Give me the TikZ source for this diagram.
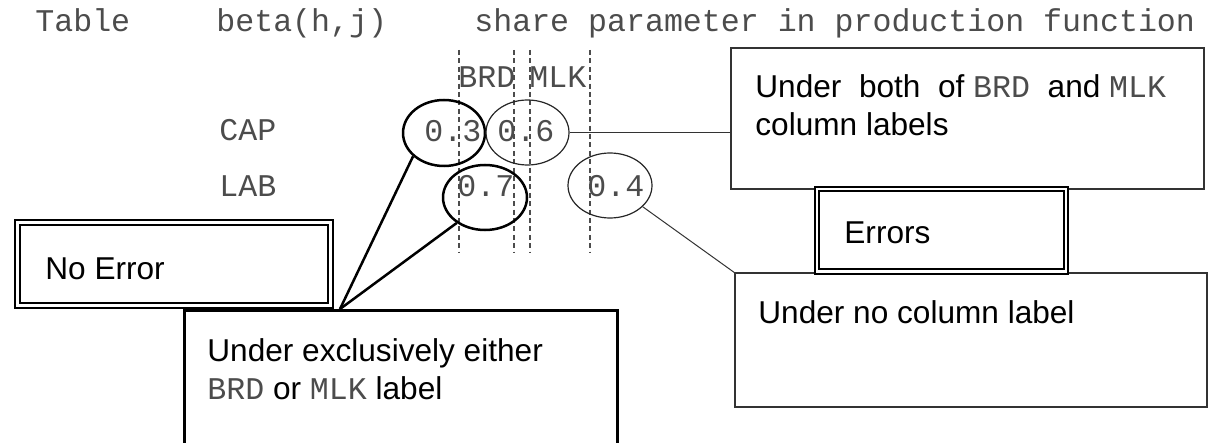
\documentclass[tikz,border=0pt]{standalone}
\usepackage{fontspec}
\setmainfont{Liberation Sans}
\setmonofont{Liberation Mono}
\usetikzlibrary{shapes.geometric,positioning,calc}

\newcommand{\cd}[1]{{\ttfamily\color{black!70}#1}}

\tikzset{
  txt/.style={inner sep=0pt, anchor=base west, font=\fontsize{15.8}{19}\selectfont, align=left},
  box/.style={draw=black!80, line width=0.6pt, fill=white, anchor=north west, inner sep=0pt, outer sep=0pt},
  boldbox/.style={box, draw=black, line width=1.5pt},
  dblbox/.style={box, draw=black, line width=1pt, double, double distance=1.25pt},
  ring/.style={draw=black!85, ellipse, line width=0.6pt, inner sep=0pt},
  boldring/.style={ring, draw=black, line width=1.25pt},
  guide/.style={draw=black!70, dash pattern=on 2.5pt off 1.7pt, line width=0.65pt},
  link/.style={draw=black!80, line width=0.5pt},
  boldlink/.style={draw=black, line width=1.25pt}
}

\begin{document}
\begin{tikzpicture}[x=0.5pt, y=-0.5pt]
\useasboundingbox (0,0) rectangle (1208,443);
\clip (0,0) rectangle (1208,443);

% heading of the table
\node[txt] (ttable) at (35,32) {\cd{Table}};
\node[txt] (tbeta) at (216,32) {\cd{beta(h,j)}};
\node[txt] (tshare) at (474,32) {\cd{share parameter in production function}};

% column and row labels
\node[txt] (cbrd) at (458,87.7) {\cd{BRD}};
\node[txt] (cmlk) at (529,87.7) {\cd{MLK}};
\node[txt] (rcap) at (219,141) {\cd{CAP}};
\node[txt] (rlab) at (219,197) {\cd{LAB}};

% column guides
\foreach \x in {459,514,530,590}
  \draw[guide] (\x,50) -- (\x,253);

% values
\node[txt] (v03) at (424,141.7) {\cd{0.3}};
\node[txt] (v06) at (497,141.7) {\cd{0.6}};
\node[txt] (v07) at (457,196.7) {\cd{0.7}};
\node[txt] (v04) at (587,196.7) {\cd{0.4}};

\node[boldring, minimum width=41pt, minimum height=33pt] (e03) at (444,133) {};
\node[ring, minimum width=41.5pt, minimum height=32.5pt] (e06) at (527.5,132.5) {};
\node[boldring, minimum width=42pt, minimum height=32.5pt] (e07) at (485,197.5) {};
\node[ring, minimum width=42pt, minimum height=32.5pt] (e04) at (610,185.5) {};

% boxes
\node[box, minimum width=236.5pt, minimum height=70.5pt] (nboth) at (731,48) {};
\node[box, minimum width=236pt, minimum height=67pt] (nnone) at (735,273) {};
\node[dblbox, minimum width=124.5pt, minimum height=41.25pt] (nerr) at (817,189) {};
\node[dblbox, minimum width=156.5pt, minimum height=41.5pt] (nnoerr) at (17.5,222.5) {};
\node[boldbox, minimum width=216.5pt, minimum height=80pt] (nexcl) at (184,310) {};

\node[txt] (tboth) at (755,136) {Under\ \ both\ \ of \cd{BRD}\ \ and \cd{MLK}\\column labels};
\node[txt] (tnone) at (758,323) {Under no column label};
\node[txt] (terr) at (844,243) {Errors};
\node[txt] (tnoerr) at (45,279) {No Error};
\node[txt] (texcl) at (207,399) {Under exclusively either\\\cd{BRD} or \cd{MLK} label};

% connectors
\coordinate (meet) at (340,309);
\draw[boldlink] (e03.217) -- (meet);
\draw[boldlink] (e07.222) -- (meet);
\draw[link] (e06.east) -- (e06.east -| nboth.west);
\draw[link] (e04.-33) -- (nnone.north west);
\end{tikzpicture}
\end{document}
